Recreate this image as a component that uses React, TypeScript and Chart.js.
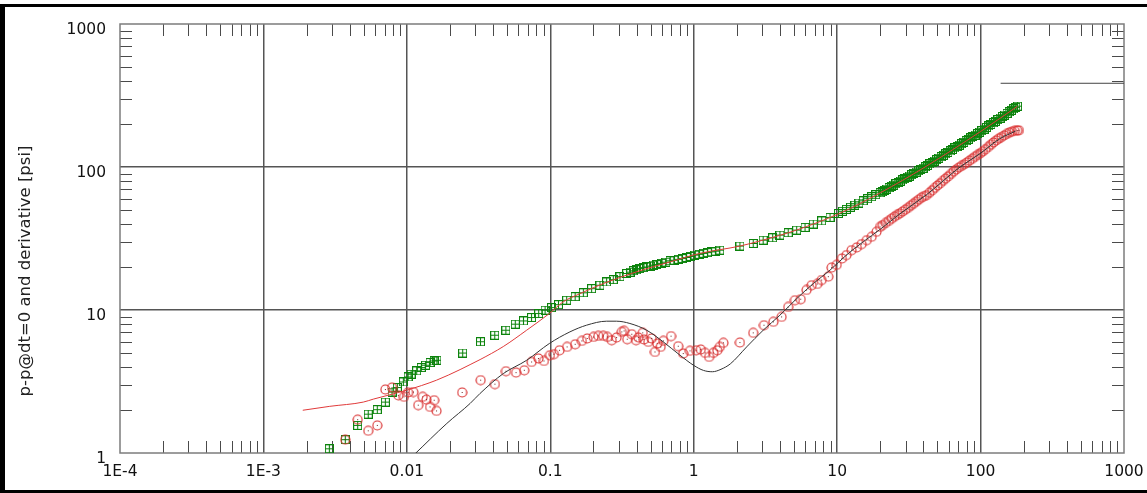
import { useEffect, useRef } from 'react';
import { Chart, registerables } from 'chart.js';

Chart.register(...registerables);

// Axis decades and their printed labels
const xTickValues = [1e-4, 1e-3, 0.01, 0.1, 1, 10, 100, 1000];
const xTickLabels = ['1E-4', '1E-3', '0.01', '0.1', '1', '10', '100', '1000'];
const yTickValues = [1, 10, 100, 1000];
const yTickLabels = ['1', '10', '100', '1000'];
const yAxisTitle = 'p-p@dt=0 and derivative [psi]';

// Measured pressure change: elapsed time [hr] / delta p [psi]
const pressureTime = [
  0.00288, 0.00372, 0.00454, 0.00538, 0.00622, 0.00708, 0.00788, 0.00858, 0.00945, 0.0102,
  0.0107, 0.0117, 0.0126, 0.0135, 0.0145, 0.0155, 0.0162, 0.0245, 0.0326, 0.041,
  0.049, 0.057, 0.065, 0.074, 0.083, 0.092, 0.102, 0.114, 0.13, 0.149,
  0.17, 0.194, 0.222, 0.247, 0.275, 0.306, 0.341, 0.36, 0.379, 0.4,
  0.422, 0.45, 0.47, 0.5, 0.522, 0.55, 0.598, 0.64, 0.684, 0.73,
  0.78, 0.83, 0.89, 0.95, 1.02, 1.09, 1.17, 1.25, 1.33, 1.42,
  1.52, 2.1, 2.6, 3.05, 3.55, 3.99, 4.56, 5.22, 5.97, 6.82,
  7.8, 8.92, 10.2, 10.9, 11.6, 12.4, 13.3, 14.2, 15.2, 16.3,
  17.4, 18.6, 19.9, 20.6, 21.4, 22.2, 23.0, 23.9, 24.8, 25.7,
  26.6, 27.6, 28.6, 29.7, 30.8, 31.9, 33.1, 34.3, 35.6, 36.9,
  38.3, 39.7, 41.2, 42.7, 44.3, 45.9, 47.6, 49.4, 51.2, 53.1,
  55.1, 57.1, 59.2, 61.4, 63.7, 66.1, 68.5, 71.1, 73.7, 76.4,
  79.3, 82.2, 85.3, 88.4, 91.7, 95.1, 98.6, 102, 106, 110,
  114, 118, 123, 127, 132, 137, 142, 147, 153, 158,
  164, 170, 176, 181,
];
const pressureDelta = [
  1.07, 1.24, 1.56, 1.87, 2.01, 2.27, 2.67, 2.87, 3.14, 3.4,
  3.56, 3.75, 3.96, 4.11, 4.29, 4.4, 4.45, 5.0, 6.0, 6.66,
  7.22, 7.96, 8.39, 8.86, 9.45, 9.97, 10.4, 10.9, 11.7, 12.4,
  13.2, 14.1, 14.9, 15.7, 16.3, 17.1, 18.0, 18.4, 18.8, 19.1,
  19.5, 19.8, 20.0, 20.3, 20.6, 20.8, 21.2, 21.6, 22.1, 22.3,
  22.6, 22.9, 23.3, 23.7, 24.2, 24.5, 24.9, 25.2, 25.5, 25.8,
  26.2, 28.0, 29.2, 30.8, 32.0, 33.4, 34.7, 36.2, 37.8, 39.9,
  42.0, 44.4, 47.3, 49.0, 50.5, 52.3, 54.1, 56.0, 58.0, 60.0,
  62.0, 64.0, 66.0, 67.1, 68.6, 70.1, 71.6, 73.2, 74.8, 76.4,
  77.9, 79.6, 81.2, 83.0, 84.8, 86.5, 88.4, 90.2, 92.2, 94.2,
  96.2, 98.2, 100.3, 102.6, 105.1, 107.5, 110.0, 112.7, 115.3, 118.0,
  120.8, 123.6, 126.5, 129.5, 132.6, 135.8, 138.9, 142.2, 145.5, 148.9,
  152.5, 156.1, 159.8, 163.5, 167.4, 171.3, 175.4, 179.4, 184.3, 189.1,
  193.8, 198.5, 204.1, 208.6, 214.3, 220.0, 225.5, 230.9, 237.3, 242.6,
  248.9, 255.2, 261.4, 266.5,
];

// Measured pressure derivative [psi]
const derivTime = [
  0.00372, 0.00454, 0.00538, 0.00622, 0.00708, 0.00788, 0.00872, 0.00955, 0.0102, 0.0111,
  0.012, 0.0129, 0.0137, 0.0145, 0.0155, 0.0161, 0.0243, 0.0327, 0.0411, 0.0491,
  0.0577, 0.0659, 0.0741, 0.0826, 0.0904, 0.0995, 0.106, 0.116, 0.131, 0.149,
  0.166, 0.181, 0.2, 0.216, 0.234, 0.25, 0.268, 0.29, 0.315, 0.327,
  0.344, 0.37, 0.396, 0.411, 0.441, 0.45, 0.482, 0.509, 0.537, 0.557,
  0.588, 0.614, 0.695, 0.78, 0.845, 0.942, 1.04, 1.12, 1.2, 1.28,
  1.37, 1.46, 1.52, 1.61, 2.1, 2.6, 3.09, 3.59, 4.1, 4.56,
  5.08, 5.57, 6.12, 6.64, 7.26, 7.8, 8.67, 9.15, 9.93, 10.8,
  11.6, 12.6, 13.7, 14.8, 16.1, 17.4, 18.8, 19.9, 20.8, 21.8,
  22.9, 24.0, 25.1, 26.2, 27.4, 28.6, 29.9, 31.2, 32.6, 34.0,
  35.5, 37.1, 38.7, 40.4, 42.1, 44.0, 46.0, 48.0, 50.1, 52.3,
  54.6, 57.0, 59.5, 62.1, 64.8, 67.6, 70.6, 73.7, 76.9, 80.3,
  83.8, 87.5, 91.3, 95.3, 99.5, 103.8, 108.4, 113.1, 118, 123,
  128.4, 134, 139.8, 145.9, 152.3, 158.9, 165.8, 173, 180, 185,
];
const derivValue = [
  1.24, 1.71, 1.43, 1.56, 2.78, 2.87, 2.53, 2.47, 2.65, 2.67,
  2.16, 2.47, 2.36, 2.1, 2.34, 1.97, 2.65, 3.23, 3.03, 3.73,
  3.65, 3.79, 4.33, 4.58, 4.4, 4.83, 4.91, 5.23, 5.52, 5.76,
  6.08, 6.32, 6.48, 6.59, 6.59, 6.48, 6.15, 6.42, 7.03, 7.14,
  6.25, 6.77, 6.15, 6.42, 6.92, 6.22, 5.98, 6.32, 5.09, 5.83,
  5.52, 6.08, 6.56, 5.58, 4.96, 5.18, 5.23, 5.29, 5.01, 4.7,
  5.01, 5.23, 5.52, 5.89, 5.92, 6.92, 7.83, 8.26, 8.95, 10.5,
  11.7, 11.9, 13.8, 14.9, 15.2, 16.2, 17.1, 19.8, 20.7, 22.9,
  24.2, 26.2, 27.4, 28.9, 30.8, 32.5, 35.2, 38.1, 39.3, 40.6,
  42.0, 43.5, 44.9, 46.2, 47.4, 48.8, 50.3, 51.8, 53.6, 55.3,
  57.2, 59.1, 61.0, 62.6, 63.6, 66.0, 68.8, 71.5, 74.3, 77.0,
  80.0, 82.9, 86.0, 89.4, 92.8, 96.0, 99.1, 101.8, 104.5, 107.6,
  110.8, 114.2, 117.8, 121.4, 124.8, 128.8, 133.3, 138.0, 143.2, 148.4,
  153.4, 157.9, 162.0, 166.2, 170.2, 173.8, 176.6, 178.8, 180.0, 180.5,
];

// Model response: pressure change
const modelPressureTime = [
  0.00188, 0.0029, 0.00497, 0.00583, 0.00998, 0.0161, 0.0235, 0.0276, 0.0324, 0.047,
  0.0684, 0.0985, 0.123, 0.161, 0.234, 0.4, 0.684, 1.11, 2.1, 3.0,
  5.2, 10.2, 20, 41, 100, 181,
];
const modelPressureValue = [
  1.99, 2.12, 2.27, 2.38, 2.75, 3.23, 3.83, 4.15, 4.5, 5.55,
  7.22, 9.45, 11.4, 13.0, 15.3, 18.5, 21.7, 24.9, 28.0, 30.7,
  36.2, 47.0, 66.0, 100, 177, 266,
];

// Model response: pressure derivative
const modelDerivTime = [
  0.0112, 0.019, 0.0276, 0.0324, 0.047, 0.0684, 0.0985, 0.137, 0.179, 0.247,
  0.29, 0.359, 0.47, 0.614, 0.802, 1.0, 1.17, 1.35, 1.55, 1.8,
  2.34, 3.05, 3.99, 5.22, 6.82, 8.92, 11.6, 15.2, 19.9, 27.4,
  42, 72, 99, 137, 175,
];
const modelDerivValue = [
  0.97, 1.61, 2.22, 2.61, 3.59, 4.45, 5.83, 7.03, 7.83, 8.35,
  8.35, 8.05, 7.22, 5.98, 4.83, 4.1, 3.78, 3.7, 3.85, 4.2,
  5.52, 7.22, 9.2, 12.0, 15.3, 19.0, 24.2, 30.0, 36.6, 47.0,
  64.0, 100, 124, 158, 178,
];

// Short horizontal reference line in the upper right
const refLineTime = [138, 1000];
const refLineValue = [385, 385];

const toPoints = (xs: number[], ys: number[]) => xs.map((x, i) => ({ x, y: ys[i] }));

const FONT = '"DejaVu Sans", Verdana, sans-serif';

function squareMarker(color: string): HTMLCanvasElement {
  const c = document.createElement('canvas');
  c.width = 9;
  c.height = 9;
  const g = c.getContext('2d')!;
  g.strokeStyle = color;
  g.lineWidth = 1.1;
  g.strokeRect(0.5, 0.5, 8, 8);
  g.beginPath();
  g.moveTo(4.5, 0.5);
  g.lineTo(4.5, 8.5);
  g.moveTo(0.5, 4.5);
  g.lineTo(8.5, 4.5);
  g.stroke();
  return c;
}

function circleMarker(color: string, dot: string): HTMLCanvasElement {
  const c = document.createElement('canvas');
  c.width = 11;
  c.height = 11;
  const g = c.getContext('2d')!;
  g.strokeStyle = color;
  g.lineWidth = 1.15;
  g.beginPath();
  g.arc(5.5, 5.5, 4.5, 0, Math.PI * 2);
  g.stroke();
  g.fillStyle = dot;
  g.fillRect(5, 5, 1, 1);
  return c;
}

// Minor log ticks drawn inward on all four sides, plus the plot frame and axis title
const logFramePlugin = {
  id: 'logFrame',
  beforeDatasetsDraw(chart: any) {
    const { ctx, chartArea: a, scales } = chart;
    const xs = scales.x;
    const ys = scales.y;
    const len = 12;
    ctx.save();
    ctx.strokeStyle = '#4a4a4a';
    ctx.lineWidth = 1;
    ctx.beginPath();
    for (let e = -4; e < 3; e++) {
      for (let m = 2; m <= 9; m++) {
        const px = Math.round(xs.getPixelForValue(m * Math.pow(10, e))) + 0.5;
        ctx.moveTo(px, a.bottom);
        ctx.lineTo(px, a.bottom - len);
        ctx.moveTo(px, a.top);
        ctx.lineTo(px, a.top + len);
      }
    }
    for (let e = 0; e < 3; e++) {
      for (let m = 2; m <= 9; m++) {
        const py = Math.round(ys.getPixelForValue(m * Math.pow(10, e))) + 0.5;
        ctx.moveTo(a.left, py);
        ctx.lineTo(a.left + len, py);
        ctx.moveTo(a.right, py);
        ctx.lineTo(a.right - len, py);
      }
    }
    ctx.stroke();
    ctx.strokeStyle = '#7c7c7c';
    ctx.lineWidth = 1.5;
    ctx.strokeRect(a.left, a.top, a.right - a.left, a.bottom - a.top);
    ctx.restore();
  },
  afterDraw(chart: any) {
    const { ctx } = chart;
    ctx.save();
    ctx.translate(26, 271);
    ctx.rotate(-Math.PI / 2);
    ctx.font = `16.5px ${FONT}`;
    ctx.fillStyle = '#222';
    ctx.textAlign = 'center';
    ctx.textBaseline = 'middle';
    ctx.fillText(yAxisTitle, 0, 0);
    ctx.restore();
  },
};

export default function App() {
  const canvasRef = useRef<HTMLCanvasElement | null>(null);

  useEffect(() => {
    const canvas = canvasRef.current;
    if (!canvas) return;
    const square = squareMarker('#0c830c');
    const circle = circleMarker('#d92e2e', '#6e2020');
    const lastX = xTickValues.length - 1;
    const lastY = yTickValues.length - 1;

    const chart = new Chart(canvas, {
      type: 'scatter',
      data: {
        datasets: [
          {
            label: 'model derivative',
            data: toPoints(modelDerivTime, modelDerivValue),
            showLine: true,
            borderColor: '#333333',
            borderWidth: 1,
            pointRadius: 0,
            cubicInterpolationMode: 'monotone',
          },
          {
            label: 'model pressure',
            data: toPoints(modelPressureTime, modelPressureValue),
            showLine: true,
            borderColor: '#e03a3a',
            borderWidth: 1,
            pointRadius: 0,
            cubicInterpolationMode: 'monotone',
          },
          {
            label: 'reference',
            data: toPoints(refLineTime, refLineValue),
            showLine: true,
            borderColor: '#444444',
            borderWidth: 1,
            pointRadius: 0,
          },
          {
            label: 'derivative',
            data: toPoints(derivTime, derivValue),
            pointStyle: circle,
            pointRadius: 5,
          },
          {
            label: 'pressure change',
            data: toPoints(pressureTime, pressureDelta),
            pointStyle: square,
            pointRadius: 4.5,
          },
        ],
      } as any,
      options: {
        animation: false,
        responsive: false,
        maintainAspectRatio: false,
        devicePixelRatio: 1,
        layout: { padding: { left: 0, right: 23, top: 24, bottom: 0 }, autoPadding: false },
        plugins: { legend: { display: false }, tooltip: { enabled: false } },
        events: [],
        scales: {
          x: {
            type: 'logarithmic',
            position: 'bottom',
            min: 1e-4,
            max: 1000,
            afterFit: (s: any) => {
              s.height = 40;
              s.paddingLeft = 0;
              s.paddingRight = 0;
            },
            afterBuildTicks: (s: any) => {
              s.ticks = xTickValues.map((v) => ({ value: v }));
            },
            grid: {
              color: (c: any) => (c.index === 0 || c.index === lastX ? 'rgba(0,0,0,0)' : '#555555'),
              lineWidth: 1.5,
              drawTicks: false,
            },
            border: { display: false },
            ticks: {
              autoSkip: false,
              maxRotation: 0,
              padding: 10,
              color: '#111',
              font: { family: FONT, size: 15.5 },
              callback: (_v: any, i: number) => xTickLabels[i],
            },
          },
          y: {
            type: 'logarithmic',
            position: 'left',
            min: 1,
            max: 1000,
            afterFit: (s: any) => {
              s.width = 120;
              s.paddingTop = 0;
              s.paddingBottom = 0;
            },
            afterBuildTicks: (s: any) => {
              s.ticks = yTickValues.map((v) => ({ value: v }));
            },
            grid: {
              color: (c: any) => (c.index === 0 || c.index === lastY ? 'rgba(0,0,0,0)' : '#555555'),
              lineWidth: 1.5,
              drawTicks: false,
            },
            border: { display: false },
            ticks: {
              autoSkip: false,
              padding: 14,
              labelOffset: 6,
              color: '#111',
              font: { family: FONT, size: 15.5 },
              callback: (_v: any, i: number) => yTickLabels[i],
            },
          },
        },
      } as any,
      plugins: [logFramePlugin],
    });

    return () => chart.destroy();
  }, []);

  return (
    <div
      style={{
        position: 'fixed',
        left: 0,
        top: 0,
        width: 1147,
        height: 493,
        background: '#fff',
        overflow: 'hidden',
      }}
    >
      <canvas ref={canvasRef} width={1147} height={493} style={{ display: 'block' }} />
      <div
        style={{
          position: 'absolute',
          left: 0,
          top: 4,
          width: 1147,
          height: 489,
          boxSizing: 'border-box',
          borderLeft: '5px solid #000',
          borderTop: '3px solid #000',
          borderBottom: '3px solid #000',
          pointerEvents: 'none',
        }}
      />
    </div>
  );
}
